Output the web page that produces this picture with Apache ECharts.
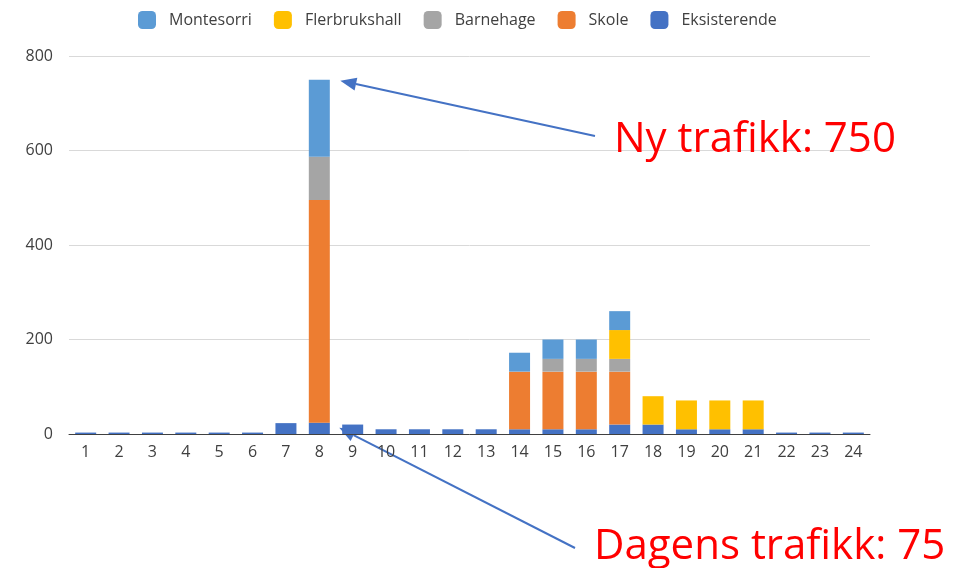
<!DOCTYPE html>
<html><head><meta charset="utf-8">
<script src="https://cdn.jsdelivr.net/npm/echarts@6/dist/echarts.min.js"></script>
<style>html,body{margin:0;padding:0;background:#fff}#c{width:969px;height:568px}</style>
</head><body><div id="c"></div>
<script>
const categories = ['1','2','3','4','5','6','7','8','9','10','11','12','13','14','15','16','17','18','19','20','21','22','23','24'];
const eksisterende = [3,3,3,3,3,3,23,24,20,10,10,10,10,10,10,10,20,20,10,10,10,3,3,3];
const skole =        [0,0,0,0,0,0,0,471,0,0,0,0,0,122,122,122,112,0,0,0,0,0,0,0];
const barnehage =    [0,0,0,0,0,0,0,92,0,0,0,0,0,0,27,27,27,0,0,0,0,0,0,0];
const flerbrukshall =[0,0,0,0,0,0,0,0,0,0,0,0,0,0,0,0,61,60,61,61,61,0,0,0];
const montesorri =   [0,0,0,0,0,0,0,163,0,0,0,0,0,40,41,41,40,0,0,0,0,0,0,0];
const yTicks = [0,200,400,600,800];
const legendOrder = ['Montesorri','Flerbrukshall','Barnehage','Skole','Eksisterende'];

const font = 'Open Sans';
const chart = echarts.init(document.getElementById('c'));
function s(name, data, color){
  return {name, type:'bar', stack:'t', data, barWidth:21, itemStyle:{color}, emphasis:{disabled:true}};
}
chart.setOption({
  animation:false,
  legend:{data:legendOrder, top:6, left:133, itemWidth:18, itemHeight:18, itemGap:22,
    icon:'roundRect', textStyle:{fontFamily:font, fontSize:16, color:'#404040', padding:[0,0,0,8]}},
  grid:{left:69, right:99, top:56, bottom:134},
  xAxis:{type:'category', data:categories,
    axisLine:{lineStyle:{color:'#404040'}}, axisTick:{show:false},
    axisLabel:{fontFamily:font, fontSize:16, color:'#404040', margin:10}},
  yAxis:{type:'value', min:0, max:800, interval:200,
    axisLabel:{fontFamily:font, fontSize:16, color:'#404040', margin:16,
      formatter:v=>yTicks.includes(v)?String(v):''},
    splitLine:{lineStyle:{color:'#D9D9D9'}}},
  series:[
    s('Eksisterende', eksisterende, '#4472C4'),
    s('Skole', skole, '#ED7D31'),
    s('Barnehage', barnehage, '#A5A5A5'),
    s('Flerbrukshall', flerbrukshall, '#FFC000'),
    s('Montesorri', montesorri, '#5B9BD5')
  ]
});

function arrow(start, tip){
  const dx = tip[0]-start[0], dy = tip[1]-start[1];
  const len = Math.hypot(dx,dy), ux = dx/len, uy = dy/len, nx = -uy, ny = ux;
  const L = 16, W = 13;
  const bx = tip[0]-ux*L, by = tip[1]-uy*L;
  return [
    {type:'line', shape:{x1:start[0], y1:start[1], x2:bx, y2:by}, style:{stroke:'#4472C4', lineWidth:2}},
    {type:'polygon', shape:{points:[tip,[bx+nx*W/2, by+ny*W/2],[bx-nx*W/2, by-ny*W/2]]}, style:{fill:'#4472C4'}}
  ];
}
const top8 = chart.convertToPixel({gridIndex:0}, ['8', 750]);
const low8 = chart.convertToPixel({gridIndex:0}, ['8', 13]);
const g = [].concat(
  arrow([595,136],[top8[0]+21, top8[1]+1]),
  arrow([575,548],[low8[0]+20, low8[1]+0]),
  [{type:'text', left:614, top:119, style:{text:'Ny trafikk: 750', fill:'#FF0000', font:'42px "Open Sans"'}},
   {type:'text', left:594, top:526, style:{text:'Dagens trafikk: 75', fill:'#FF0000', font:'42px "Open Sans"'}}]
);
chart.setOption({graphic:g});
</script></body></html>
